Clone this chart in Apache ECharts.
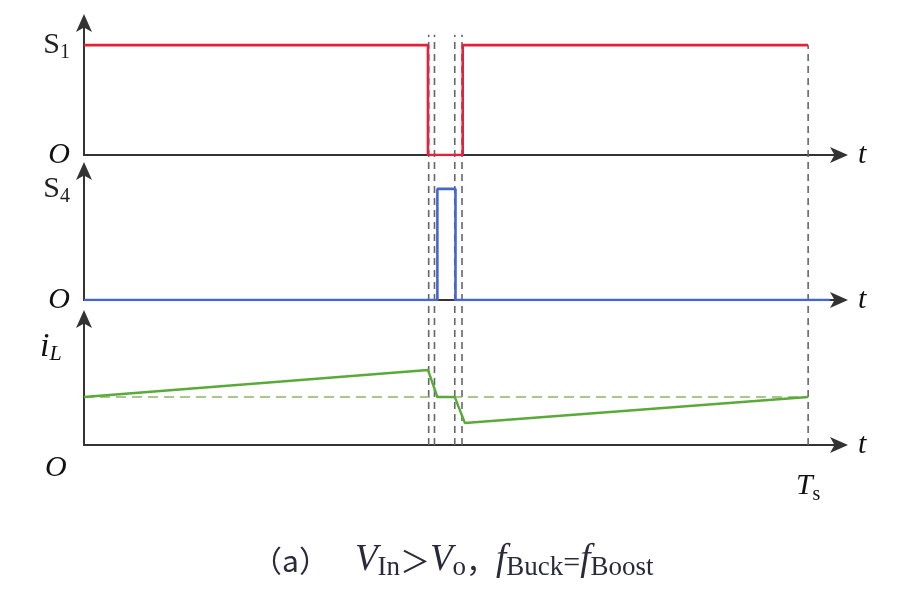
<!DOCTYPE html>
<html><head><meta charset="utf-8">
<script src="https://cdn.jsdelivr.net/npm/echarts@6/dist/echarts.min.js"></script>
<style>html,body{margin:0;padding:0;background:#fff}#c{width:904px;height:598px}</style>
</head><body><div id="c"></div>
<script>
// ---- data (time in % of Ts) ----
const Ts = 100;
const tMax = 104.4;
const s1Time = [0, 47.5, 47.5, 52.3, 52.3, 100];
const s1Val  = [1, 1, 0, 0, 1, 1];
const s4Time = [0, 48.8, 48.8, 51.3, 51.3, 103];
const s4Val  = [0, 0, 1, 1, 0, 0];
const iLTime = [0, 47.5, 48.8, 51.2, 52.6, 100];
const iLVal  = [0.48, 0.75, 0.48, 0.48, 0.22, 0.48];
const iLAvg  = 0.48;
const switchTimes = [47.6, 48.4, 51.2, 52.2];
const tsLabels = ['T', 's'];

const serif = 'Liberation Serif';
const axisColor = '#333';
const zip = (a, b) => a.map((x, i) => [x, b[i]]);

const chart = echarts.init(document.getElementById('c'), null, {renderer: 'canvas'});

const gridsPx = [
  {top: 22, height: 133},
  {top: 170, height: 130},
  {top: 318, height: 127},
  {top: 22, height: 423}
];
const grid = gridsPx.map(g => ({left: 84, width: 756, top: g.top, height: g.height}));

const arrowLine = {show: true, onZero: false, lineStyle: {color: axisColor, width: 2}, symbol: ['none', 'arrow'], symbolSize: [12, 18], symbolOffset: [0, 8]};

function xAx(i, show, extra) {
  return Object.assign({
    gridIndex: i, type: 'value', min: 0, max: tMax, show: show,
    axisLine: arrowLine,
    axisTick: {show: false}, splitLine: {show: false}, axisLabel: {show: false},
    name: 't', nameLocation: 'end', nameGap: 18,
    nameTextStyle: {fontFamily: serif, fontStyle: 'italic', fontSize: 30, color: '#111', verticalAlign: 'middle', padding: [6, 0, 0, 0]}
  }, extra || {});
}
const rich = {
  o: {fontFamily: serif, fontStyle: 'italic', fontSize: 30, color: '#111'},
  s: {fontFamily: serif, fontSize: 30, color: '#222'},
  sub: {fontFamily: serif, fontSize: 20, color: '#222', padding: [16, 0, 0, 0]}
};
function yAx(i, max, subLabel) {
  return {
    gridIndex: i, type: 'value', min: 0, max: max, interval: 1,
    axisLine: arrowLine,
    axisTick: {show: false}, splitLine: {show: false},
    axisLabel: subLabel ? {
      show: true, margin: 14, showMaxLabel: false, rich: rich,
      formatter: v => v === 0 ? '{o|O}' : (v === 1 ? '{s|S}{sub|' + subLabel + '}' : '')
    } : {show: false}
  };
}

const xAxis = [
  xAx(0, true), xAx(1, true),
  xAx(2, true, {
    axisLabel: {show: true, margin: 22, showMinLabel: false, showMaxLabel: false, rich: {
      t: {fontFamily: serif, fontStyle: 'italic', fontSize: 30, color: '#111'},
      sub: {fontFamily: serif, fontSize: 20, color: '#111', padding: [18, 0, 0, 0]}
    }, formatter: v => v === Ts ? '{t|' + tsLabels[0] + '}{sub|' + tsLabels[1] + '}' : ''},
    interval: Ts / 2
  }),
  {gridIndex: 3, type: 'value', min: 0, max: tMax, show: false}
];
const yAxis = [
  yAx(0, 1.21, '1'),
  yAx(1, 1.17, '4'),
  Object.assign(yAx(2, 1.27, null), {interval: undefined}),
  {gridIndex: 3, type: 'value', min: 0, max: 1, show: false}
];

const dashStyle = {color: '#666', width: 1.6, type: [7, 5]};
const series = [];
// vertical dashed guide lines across all panels
switchTimes.forEach(t => series.push({
  type: 'line', xAxisIndex: 3, yAxisIndex: 3, symbol: 'none', silent: true,
  lineStyle: dashStyle, data: [[t, 0], [t, 0.97]]
}));
series.push({
  type: 'line', xAxisIndex: 3, yAxisIndex: 3, symbol: 'none', silent: true,
  lineStyle: dashStyle, data: [[Ts, 0], [Ts, 0.945]]
});
series.push({
  type: 'line', xAxisIndex: 0, yAxisIndex: 0, symbol: 'none',
  lineStyle: {color: '#e3223a', width: 2.6}, data: zip(s1Time, s1Val), z: 5
});
series.push({
  type: 'line', xAxisIndex: 1, yAxisIndex: 1, symbol: 'none',
  lineStyle: {color: '#4566cc', width: 2.6}, data: zip(s4Time, s4Val), z: 5
});
series.push({
  type: 'line', xAxisIndex: 2, yAxisIndex: 2, symbol: 'none',
  lineStyle: {color: '#5aaa3a', width: 2.4}, data: zip(iLTime, iLVal), z: 5,
  markLine: {
    silent: true, symbol: 'none', label: {show: false},
    lineStyle: {color: '#8db46a', width: 1.6, type: [10, 6]},
    data: [[{coord: [0, iLAvg]}, {coord: [Ts, iLAvg]}]]
  }
});

const graphic = [
  {type: 'text', left: 40, top: 330, style: {
    text: '{i|i}{sub|L}', rich: {
      i: {fontFamily: serif, fontStyle: 'italic', fontSize: 34, fill: '#111'},
      sub: {fontFamily: serif, fontStyle: 'italic', fontSize: 22, fill: '#111', padding: [14, 0, 0, 0]}
    }}},
  {type: 'text', left: 45, top: 453, style: {text: 'O', font: 'italic 30px "Liberation Serif"', fill: '#111'}},
  {type: 'text', left: 252, top: 542, style: {
    text: '{c|（a）}{it|V}{sb|In}{p|＞}{it|V}{sb|o}{p|，}{it|f}{sb|Buck}{n|=}{it|f}{sb|Boost}',
    rich: {
      c: {fontFamily: 'Noto Sans CJK SC', fontSize: 30, fill: '#2a2a3a', padding: [0, 26, 0, 0]},
      it: {fontFamily: serif, fontStyle: 'italic', fontSize: 37, fill: '#2a2a3a'},
      n: {fontFamily: serif, fontSize: 30, fill: '#2a2a3a', padding: [8, 0, 0, 0]},
      p: {fontFamily: 'Noto Sans CJK SC', fontSize: 30, fill: '#2a2a3a'},
      sb: {fontFamily: serif, fontSize: 27, fill: '#2a2a3a', padding: [14, 0, 0, 0]}
    }}}
];

chart.setOption({animation: false, grid, xAxis, yAxis, series, graphic});
</script></body></html>
